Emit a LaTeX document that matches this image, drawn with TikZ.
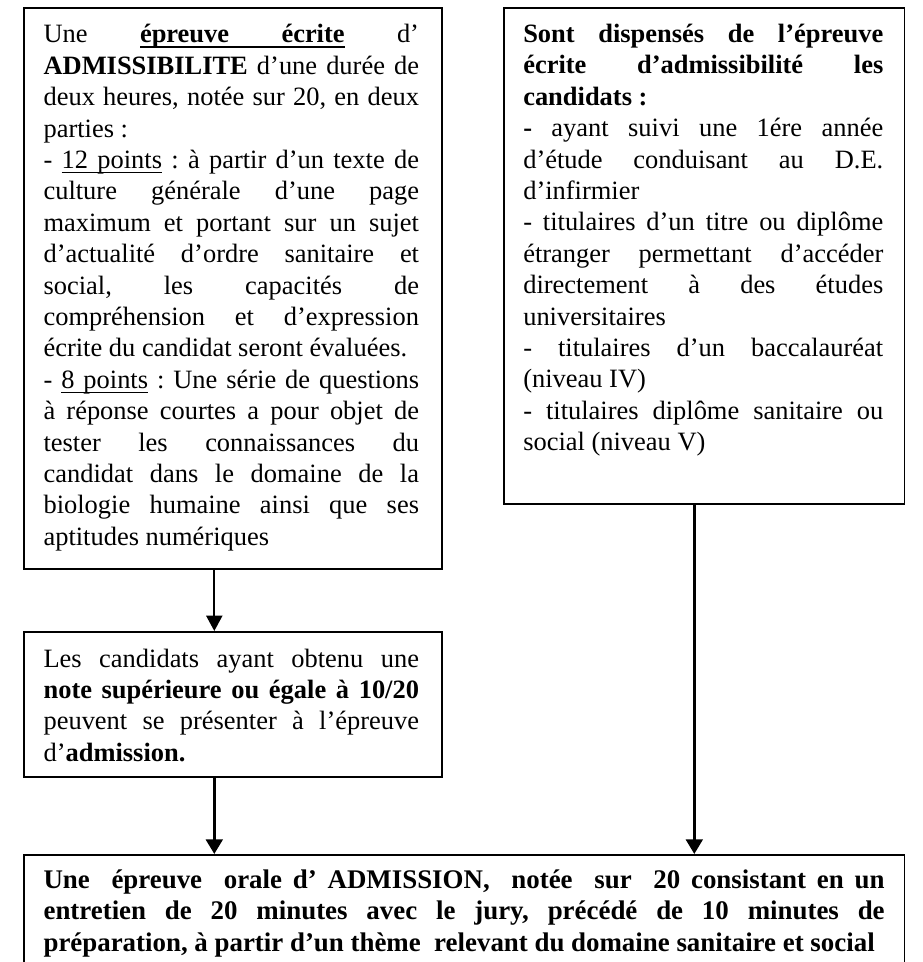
\documentclass[tikz,border=0pt]{standalone}
\usepackage{fontspec}
\setmainfont{Liberation Serif}
\usetikzlibrary{arrows.meta}
\newcommand{\ulword}[1]{\leavevmode\setbox0\hbox{#1}\rlap{\vrule height -2.5pt depth 3.5pt width \wd0}\box0\relax}
\newcommand{\ulspace}{\leaders\hrule height -2.5pt depth 3.5pt\hskip\fontdimen2\font plus\fontdimen3\font minus\fontdimen4\font\relax}
\newcommand{\mysetup}[1]{\fontsize{#1}{23.55pt}\selectfont\parindent=0pt\tolerance=10000\pretolerance=-1\hyphenpenalty=10000\exhyphenpenalty=10000\frenchspacing}
\newcommand{\txtbox}[3]{\parbox[t]{#1}{\mysetup{#2}#3}}
\begin{document}
\begin{tikzpicture}[x=0.75pt,y=-0.75pt,
  boxnode/.style={draw, line width=1.4pt, rectangle, inner sep=0pt, anchor=north west},
  textnode/.style={inner sep=0pt, anchor=base west},
  arrthin/.style={line width=1.5pt, -{Triangle[length=11.5pt,width=12pt]}},
  arrthick/.style={line width=2.25pt, -{Triangle[length=11pt,width=12.5pt]}}]
\useasboundingbox (0,0) rectangle (922,962);
\clip (0,0) rectangle (922,962);
% boxes
\node[boxnode, minimum width=313.5pt, minimum height=420.75pt] (b1) at (23,7) {};
\node[boxnode, minimum width=300.4pt, minimum height=372pt] (b2) at (503,7) {};
\node[boxnode, minimum width=313.5pt, minimum height=108.75pt] (b3) at (23,631) {};
\node[boxnode, minimum width=660.4pt, minimum height=105pt] (b4) at (23,854) {};
% texts
\node[textnode] (t1) at (43.3,43) {\txtbox{281.6pt}{19.84pt}{%
Une \textbf{\ulword{épreuve}\ulspace\ulword{écrite}} d’\linebreak
\textbf{ADMISSIBILITE} d’une durée de\linebreak
deux heures, notée sur 20, en deux\linebreak
parties :\\
- \ulword{12}\ulspace\ulword{points} : à partir d’un texte de\linebreak
culture générale d’une page\linebreak
maximum et portant sur un sujet\linebreak
d’actualité d’ordre sanitaire et\linebreak
social, les capacités de\linebreak
compréhension et d’expression\linebreak
écrite du candidat seront évaluées.\\
- \ulword{8}\ulspace\ulword{points} : Une série de questions\linebreak
à réponse courtes a pour objet de\linebreak
tester les connaissances du\linebreak
candidat dans le domaine de la\linebreak
biologie humaine ainsi que ses\linebreak
aptitudes numériques}};
\node[textnode] (t2) at (523,42.5) {\txtbox{270pt}{19.84pt}{%
\textbf{Sont dispensés de l’épreuve\linebreak
écrite d’admissibilité les\linebreak
candidats :}\\
\textbf{-} ayant suivi une 1ére année\linebreak
d’étude conduisant au D.E.\linebreak
d’infirmier\\
- titulaires d’un titre ou diplôme\linebreak
étranger permettant d’accéder\linebreak
directement à des études\linebreak
universitaires\\
- titulaires d’un baccalauréat\linebreak
(niveau IV)\\
- titulaires diplôme sanitaire ou\linebreak
social (niveau V)}};
\node[textnode] (t3) at (43.3,667) {\txtbox{281.6pt}{19.84pt}{%
Les candidats ayant obtenu une\linebreak
\textbf{note supérieure ou égale à 10/20}\linebreak
peuvent se présenter à l’épreuve\linebreak
d’\textbf{admission.}}};
\node[textnode] (t4) at (43.3,888.5) {\txtbox{630.8pt}{20.17pt}{\bfseries
Une\ \ épreuve\ \ orale d’ ADMISSION,\ \ notée\ \ sur\ \ 20 consistant en un\linebreak
entretien de 20 minutes avec le jury, précédé de 10 minutes de\linebreak
préparation, à partir d’un thème\ \ relevant du domaine sanitaire et social}};
% connectors
\coordinate (xa) at (214.3,0);
\coordinate (xb) at (694.3,0);
\draw[arrthin] (b1.south -| xa) -- (b3.north -| xa);
\draw[arrthick] (b3.south -| xa) -- (b4.north -| xa);
\draw[arrthick] (b2.south -| xb) -- (b4.north -| xb);
\end{tikzpicture}
\end{document}
